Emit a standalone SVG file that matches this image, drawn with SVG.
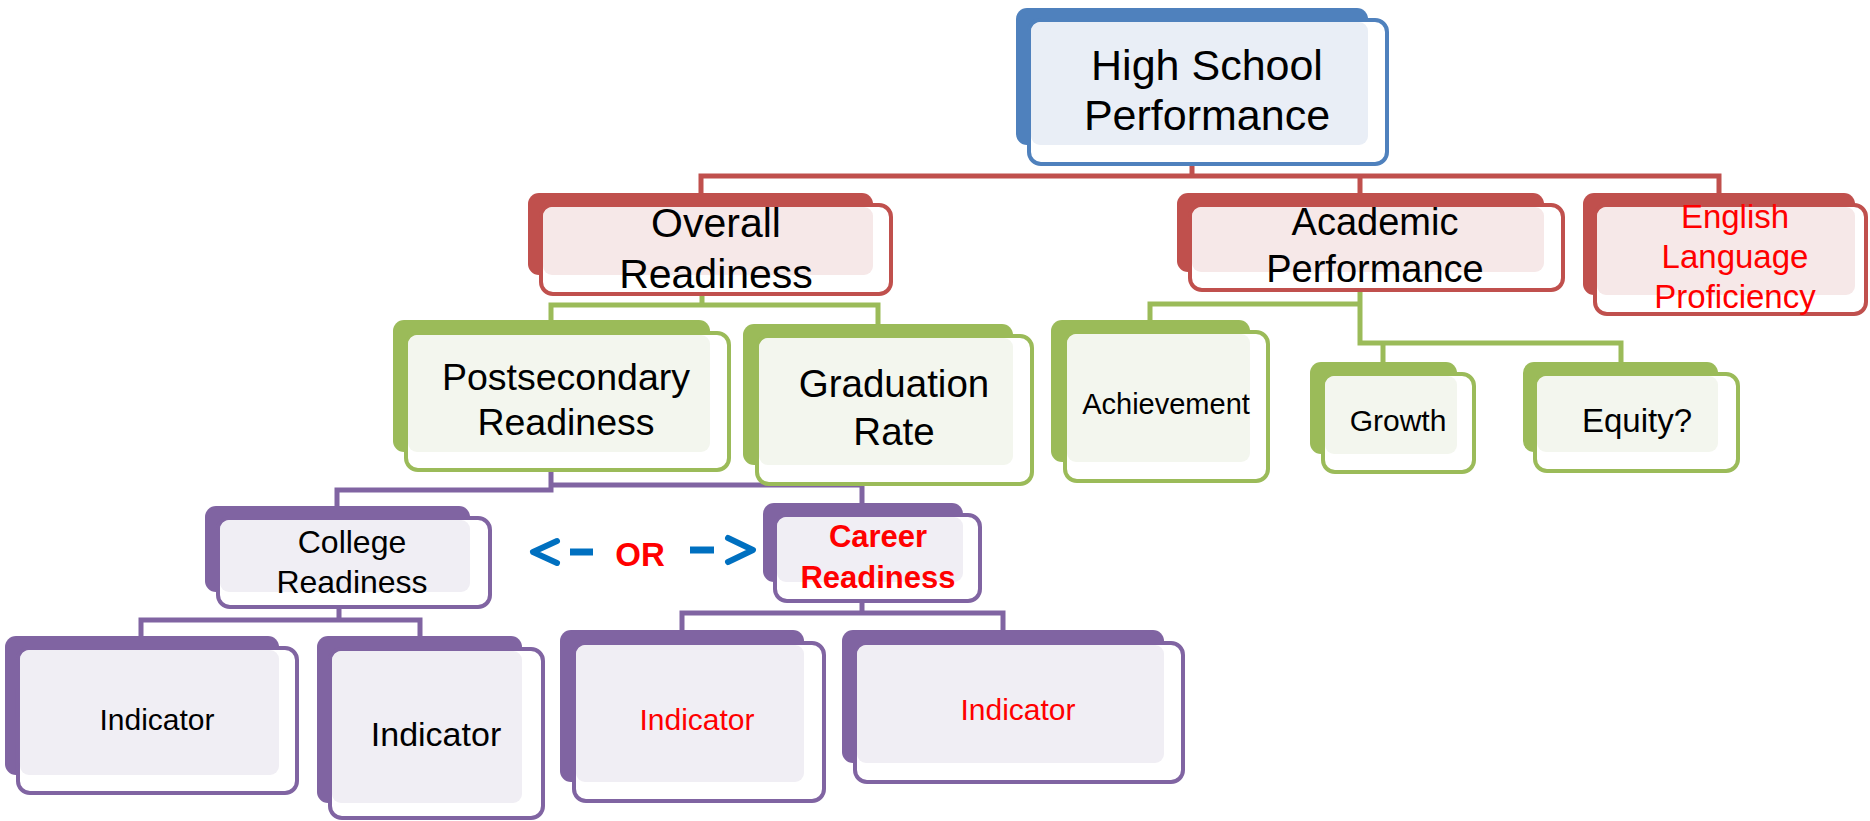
<svg xmlns="http://www.w3.org/2000/svg" width="1870" height="821" viewBox="0 0 1870 821">
<style>
text{font-family:"Liberation Sans",Arial,sans-serif;text-anchor:middle;fill:#000}
.red-t{fill:#FF0000}
.bold{font-weight:bold}
.back{rx:11;ry:11}
.front{fill:#FFFFFF;stroke-width:4;rx:12;ry:12}
.light{rx:9;ry:9}
.blue .back{fill:#4F81BD}.blue .front{stroke:#4F81BD}.blue .light{fill:#E9EEF6}
.red .back{fill:#C0504D}.red .front{stroke:#C0504D}.red .light{fill:#F6E8E8}
.green .back{fill:#9BBB59}.green .front{stroke:#9BBB59}.green .light{fill:#F3F6EE}
.purple .back{fill:#8064A2}.purple .front{stroke:#8064A2}.purple .light{fill:#F0EEF4}
.c{fill:none;stroke-width:5;stroke-linejoin:miter}
.cr{stroke:#C0504D}.cg{stroke:#9BBB59}.cp{stroke:#8064A2}
.faint{fill:none;stroke-width:5;stroke-opacity:0.13}
.arrow{fill:none;stroke:#0070C0;stroke-width:6;stroke-linecap:round;stroke-linejoin:round}
.dash{stroke:#0070C0;stroke-width:7}
</style>
<g id="connectors">
<path class="c cr" d="M701,193 V176 H1719 V193 M1192,166 V176 M1360,176 V193"/>
<path class="faint cr" d="M1192,146 V166"/>
<path class="c cg" d="M551,320 V305 H878 V324 M702,296 V305"/>
<path class="faint cg" d="M702,276 V296"/>
<path class="c cg" d="M1360,292 V343 H1621 V362 M1360,304 H1150 V320 M1383,343 V362"/>
<path class="faint cg" d="M1360,273 V292"/>
<path class="c cp" d="M337,506 V490 H551 V472 M551,485 H862 V503"/>
<path class="faint cp" d="M551,453 V472"/>
<path class="c cp" d="M339,609 V620 M141,636 V620 H420 V636"/>
<path class="c cp" d="M862,603 V613 M682,630 V613 H1003 V630"/>
<path class="faint cp" d="M339,593 V609 M862,583 V603"/>
</g>
<g id="or-arrows">
<polyline class="arrow" points="557,541 533,552 557,563"/>
<line class="dash" x1="570" y1="552" x2="593" y2="552"/>
<line class="dash" x1="690" y1="550" x2="714" y2="550"/>
<polyline class="arrow" points="728,538 753,550 728,562"/>
<text class="red-t bold" x="640" y="566" font-size="33">OR</text>
</g>
<g id="high-school-performance" class="blue">
<rect class="back" x="1016" y="8" width="352" height="137"/>
<rect class="front" x="1029" y="20" width="358" height="144"/>
<rect class="light" x="1031" y="22" width="337" height="123"/>
<text x="1207" y="80" font-size="43">High School</text>
<text x="1207" y="130" font-size="43">Performance</text>
</g>
<g id="overall-readiness" class="red">
<rect class="back" x="528" y="193" width="345" height="82"/>
<rect class="front" x="541" y="205" width="350" height="89"/>
<rect class="light" x="543" y="207" width="330" height="68"/>
<text x="716" y="237" font-size="41">Overall</text>
<text x="716" y="288" font-size="41">Readiness</text>
</g>
<g id="academic-performance" class="red">
<rect class="back" x="1177" y="193" width="367" height="79"/>
<rect class="front" x="1190" y="205" width="373" height="85"/>
<rect class="light" x="1192" y="207" width="352" height="65"/>
<text x="1375" y="235" font-size="38">Academic</text>
<text x="1375" y="282" font-size="38">Performance</text>
</g>
<g id="english-language-proficiency" class="red">
<rect class="back" x="1583" y="193" width="272" height="102"/>
<rect class="front" x="1595" y="205" width="271" height="109"/>
<rect class="light" x="1597" y="207" width="258" height="88"/>
<text class="red-t" x="1735" y="228" font-size="33">English</text>
<text class="red-t" x="1735" y="268" font-size="33">Language</text>
<text class="red-t" x="1735" y="308" font-size="33">Proficiency</text>
</g>
<g id="postsecondary-readiness" class="green">
<rect class="back" x="393" y="320" width="317" height="132"/>
<rect class="front" x="406" y="333" width="323" height="137"/>
<rect class="light" x="408" y="335" width="302" height="117"/>
<text x="566" y="390" font-size="37.5">Postsecondary</text>
<text x="566" y="435" font-size="37.5">Readiness</text>
</g>
<g id="graduation-rate" class="green">
<rect class="back" x="743" y="324" width="270" height="141"/>
<rect class="front" x="757" y="336" width="275" height="148"/>
<rect class="light" x="759" y="338" width="254" height="127"/>
<text x="894" y="397" font-size="38.5">Graduation</text>
<text x="894" y="445" font-size="38.5">Rate</text>
</g>
<g id="achievement" class="green">
<rect class="back" x="1051" y="320" width="199" height="142"/>
<rect class="front" x="1065" y="332" width="203" height="149"/>
<rect class="light" x="1067" y="334" width="183" height="128"/>
<text x="1166" y="414" font-size="29">Achievement</text>
</g>
<g id="growth" class="green">
<rect class="back" x="1310" y="362" width="147" height="92"/>
<rect class="front" x="1323" y="374" width="151" height="98"/>
<rect class="light" x="1325" y="376" width="132" height="78"/>
<text x="1398" y="431" font-size="30">Growth</text>
</g>
<g id="equity" class="green">
<rect class="back" x="1523" y="362" width="195" height="90"/>
<rect class="front" x="1535" y="374" width="203" height="97"/>
<rect class="light" x="1537" y="376" width="181" height="76"/>
<text x="1637" y="432" font-size="33">Equity?</text>
</g>
<g id="college-readiness" class="purple">
<rect class="back" x="205" y="506" width="265" height="86"/>
<rect class="front" x="218" y="518" width="272" height="89"/>
<rect class="light" x="220" y="520" width="250" height="72"/>
<text x="352" y="553" font-size="32">College</text>
<text x="352" y="593" font-size="32">Readiness</text>
</g>
<g id="career-readiness" class="purple">
<rect class="back" x="763" y="503" width="200" height="79"/>
<rect class="front" x="775" y="515" width="205" height="86"/>
<rect class="light" x="777" y="517" width="186" height="65"/>
<text class="red-t bold" x="878" y="547" font-size="31">Career</text>
<text class="red-t bold" x="878" y="588" font-size="31">Readiness</text>
</g>
<g id="indicator-1" class="purple">
<rect class="back" x="5" y="636" width="274" height="139"/>
<rect class="front" x="18" y="648" width="279" height="145"/>
<rect class="light" x="20" y="650" width="259" height="125"/>
<text x="157" y="730" font-size="30">Indicator</text>
</g>
<g id="indicator-2" class="purple">
<rect class="back" x="317" y="636" width="205" height="167"/>
<rect class="front" x="330" y="649" width="213" height="169"/>
<rect class="light" x="332" y="651" width="190" height="152"/>
<text x="436" y="746" font-size="34">Indicator</text>
</g>
<g id="indicator-3" class="purple">
<rect class="back" x="560" y="630" width="244" height="152"/>
<rect class="front" x="574" y="643" width="250" height="158"/>
<rect class="light" x="576" y="645" width="228" height="137"/>
<text class="red-t" x="697" y="730" font-size="30">Indicator</text>
</g>
<g id="indicator-4" class="purple">
<rect class="back" x="842" y="630" width="322" height="133"/>
<rect class="front" x="855" y="643" width="328" height="139"/>
<rect class="light" x="857" y="645" width="307" height="118"/>
<text class="red-t" x="1018" y="720" font-size="30">Indicator</text>
</g>
</svg>
